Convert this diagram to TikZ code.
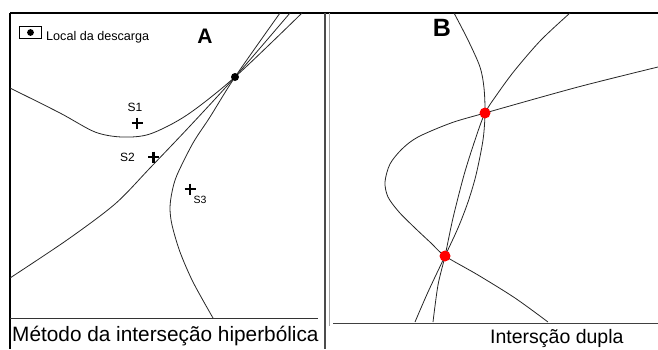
\documentclass[tikz,border=0pt]{standalone}
\usepackage{fontspec}
\setmainfont{Liberation Sans}
\usetikzlibrary{positioning}
\tikzset{crv/.style={line width=0.8pt, black!85, smooth},
  frm/.style={line width=2pt, black},
  hit/.style={circle, fill=red, inner sep=0pt, minimum size=11pt},
  mrk/.style={line width=2.2pt},
  lbl/.style={inner sep=0pt, font=\fontsize{12}{14}\selectfont}}

\begin{document}
\begin{tikzpicture}[x=1pt, y=-1pt]
  \useasboundingbox (0,0) rectangle (658,349);
  % frames
  \draw[frm] (10,13) -- (658,13);
  \draw[frm] (10,13) -- (10,349);
  \draw[line width=1.8pt, black!70] (325,13) -- (325,349);
  \draw[line width=0.8pt, black!35] (329,13) -- (329,326);
  \draw[line width=1pt, black!80] (10,318) -- (318,318);
  \draw[line width=1pt, black!75] (333,323) -- (658,323);
  \node[anchor=base west, inner sep=0pt, font=\fontsize{20.8}{24}\selectfont] (capA) at (12,341) {Método da interseção hiperbólica};
  \node[anchor=base west, inner sep=0pt, font=\fontsize{19.5}{23}\selectfont] (capB) at (490,343) {Intersção dupla};
  \node[anchor=base, inner sep=0pt, font=\bfseries\fontsize{21}{24}\selectfont] (tA) at (205,43) {A};
  \node[anchor=base, inner sep=0pt, font=\bfseries\fontsize{25}{28}\selectfont] (tB) at (442,36) {B};
  % legend
  \node[draw, line width=0.8pt, minimum width=22pt, minimum height=12pt, inner sep=0pt] (leg) at (30.5,32.5) {};
  \fill (leg.center) circle (3.4);
  \node[lbl, font=\fontsize{12.6}{14}\selectfont, anchor=base west] (legtxt) at (46,40) {Local da descarga};
  % A: three hyperbolas through the discharge
  \draw[crv] plot coordinates {(10,88) (60,113) (95,132) (122,137) (150,134) (187,115) (235,77) (302,13)};
  \draw[crv] plot coordinates {(10,278) (67,240) (115,204) (150,168) (190,126) (235,77) (290,13)};
  \draw[crv] plot coordinates {(213,318) (193,282) (180,252) (172,225) (170,208) (172,192) (177,175) (193,143) (210,117) (235,77) (280,13)};
  \fill (235,77) circle (4) coordinate (dis);
  \foreach \x/\y in {137/123,153.5/157,190/189}{
    \draw[mrk] (\x-5.5,\y) -- (\x+5.5,\y) (\x,\y-5.5) -- (\x,\y+5.5);}
  \node[lbl, anchor=base] (s1) at (135,111) {S1};
  \node[lbl, anchor=base] (s2) at (127.5,161) {S2};
  \node[lbl, anchor=base, font=\fontsize{10.5}{12}\selectfont] (s3) at (200,203) {S3};
  % B: two solutions
  \draw[crv] plot coordinates {(454,13) (468,40) (480,67) (484,88) (485,113) (483,140) (476,175) (468,202) (458,228) (445,256) (428,292) (415,322)};
  \draw[crv] plot coordinates {(570,13) (541,40) (515,70) (498,93) (485,113) (475,140) (464,175) (453,218) (445,256) (438,285) (433,322)};
  \draw[crv] plot coordinates {(658,67) (578,87) (485,113) (451,123) (418,137) (402,149) (390,164) (385,182) (388,197) (399,212) (415,228) (431,243) (445,256) (478,275) (515,298) (548,322)};
  \node[hit] (i1) at (485,113) {};
  \node[hit] (i2) at (445,256) {};
\end{tikzpicture}
\end{document}
